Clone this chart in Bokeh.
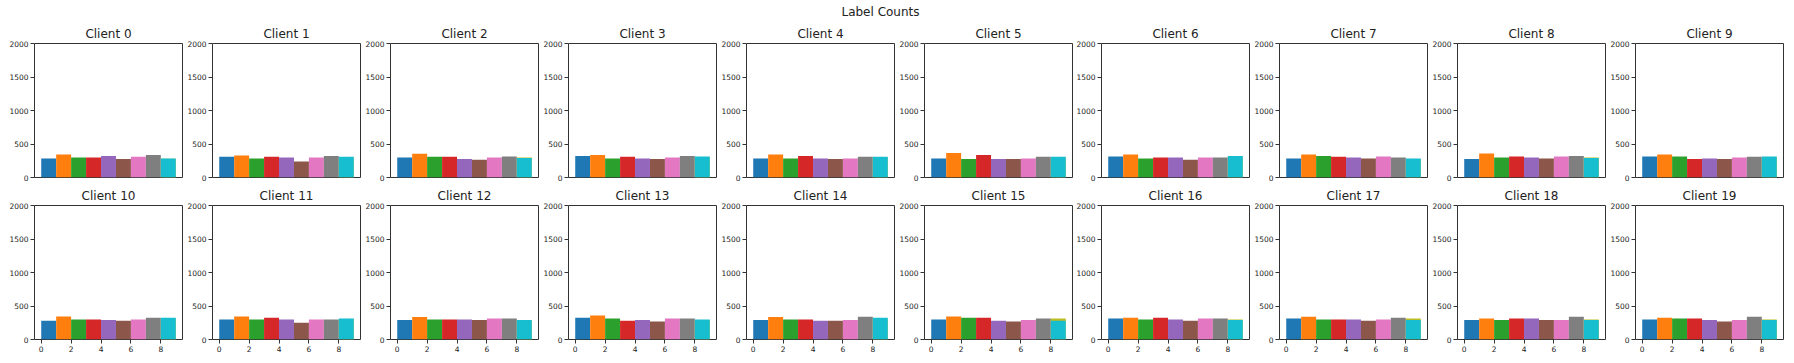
from bokeh.plotting import figure
from bokeh.layouts import column, row
from bokeh.models import ColumnDataSource, Range1d, FixedTicker
from bokeh.core.properties import value
from bokeh.embed import file_html
from bokeh.resources import INLINE

labels = [0, 1, 2, 3, 4, 5, 6, 7, 8, 9]
colors = ["#1f77b4", "#ff7f0e", "#2ca02c", "#d62728", "#9467bd",
          "#8c564b", "#e377c2", "#7f7f7f", "#bcbd22", "#17becf"]

client_0 = [285, 345, 300, 300, 320, 275, 310, 335, 280, 285]
client_1 = [310, 330, 285, 310, 300, 240, 300, 320, 300, 310]
client_2 = [300, 355, 310, 310, 275, 265, 300, 315, 300, 290]
client_3 = [320, 335, 285, 310, 285, 275, 300, 320, 305, 315]
client_4 = [285, 345, 285, 320, 285, 275, 285, 310, 300, 310]
client_5 = [285, 365, 275, 335, 275, 275, 285, 310, 300, 310]
client_6 = [315, 345, 285, 300, 300, 265, 300, 300, 310, 320]
client_7 = [285, 345, 320, 310, 300, 285, 315, 300, 275, 285]
client_8 = [275, 360, 300, 315, 300, 285, 315, 320, 300, 290]
client_9 = [315, 345, 315, 275, 285, 275, 300, 310, 305, 315]
client_10 = [280, 345, 300, 300, 290, 280, 300, 325, 315, 325]
client_11 = [300, 345, 300, 325, 300, 250, 300, 300, 305, 315]
client_12 = [290, 335, 300, 300, 300, 290, 315, 315, 280, 290]
client_13 = [325, 360, 315, 280, 290, 270, 315, 315, 290, 300]
client_14 = [290, 335, 300, 300, 280, 280, 290, 340, 310, 325]
client_15 = [300, 345, 325, 325, 280, 270, 290, 315, 315, 280]
client_16 = [315, 325, 300, 325, 300, 280, 315, 315, 300, 290]
client_17 = [315, 340, 300, 300, 300, 280, 300, 325, 315, 290]
client_18 = [290, 315, 290, 315, 315, 290, 290, 340, 300, 290]
client_19 = [300, 325, 315, 315, 290, 270, 290, 340, 300, 290]

clients = [client_0, client_1, client_2, client_3, client_4, client_5, client_6,
           client_7, client_8, client_9, client_10, client_11, client_12, client_13,
           client_14, client_15, client_16, client_17, client_18, client_19]

y_ticks = [0, 500, 1000, 1500, 2000]
x_ticks = [0, 2, 4, 6, 8]

FONT = "DejaVu Sans"
SPINE = "#333333"
TXT = "#222222"

# per-column borders (left, right) so frames land on the reference grid
col_left = [34, 28, 28, 28, 28, 28, 28, 28, 28, 28]
col_right = [2, 2, 2, 2, 2, 1, 2, 2, 2, 9]


def make_panel(idx, counts, bottom_row, col):
    p = figure(frame_width=148, frame_height=134, output_backend="svg",
               toolbar_location=None, x_range=Range1d(-0.45, 9.45),
               y_range=Range1d(0, 2000), title="Client %d" % idx)
    p.min_border_left = col_left[col]
    p.min_border_right = col_right[col]
    p.min_border_top = 21 if bottom_row else 23
    p.min_border_bottom = 24 if bottom_row else 6
    p.background_fill_color = "white"
    p.border_fill_color = "white"
    p.outline_line_color = SPINE
    p.outline_line_width = 1
    p.xgrid.visible = False
    p.ygrid.visible = False
    p.title.text_font = FONT
    p.title.text_font_size = "12px"
    p.title.text_font_style = "normal"
    p.title.text_color = TXT
    p.title.align = "center"
    p.title.standoff = 6

    # histogram-style bins: last bin holds labels 8 and 9
    left = [min(l, 8) for l in labels]
    right = [v + 1 for v in left]
    src = ColumnDataSource(dict(left=left, right=right, top=counts,
                                bottom=[0] * len(counts), color=colors))
    p.quad(left="left", right="right", bottom="bottom", top="top",
           fill_color="color", line_color=None, source=src)

    ya = p.yaxis[0]
    ya.ticker = FixedTicker(ticks=y_ticks)
    ya.axis_line_color = None
    ya.major_tick_line_color = SPINE
    ya.major_tick_out = 4
    ya.major_tick_in = 0
    ya.minor_tick_line_color = None
    ya.major_label_standoff = 2
    ya.major_label_text_font = FONT
    ya.major_label_text_font_size = "7.5px"
    ya.major_label_text_color = TXT

    xa = p.xaxis[0]
    if bottom_row:
        xa.ticker = FixedTicker(ticks=x_ticks)
        xa.axis_line_color = None
        xa.major_tick_line_color = SPINE
        xa.major_tick_out = 4
        xa.major_tick_in = 0
        xa.minor_tick_line_color = None
        xa.major_label_standoff = 2
        xa.major_label_text_font = FONT
        xa.major_label_text_font_size = "7.5px"
        xa.major_label_text_color = TXT
    else:
        xa.visible = False
    return p


row1 = [make_panel(i, clients[i], False, i) for i in range(10)]
row2 = [make_panel(i + 10, clients[i + 10], True, i) for i in range(10)]

header = figure(width=1792, height=20, output_backend="svg", toolbar_location=None,
                x_range=Range1d(0, 1792), y_range=Range1d(0, 20),
                min_border=0, outline_line_color=None)
header.axis.visible = False
header.grid.visible = False
header.text(x=[880], y=[9], text=["Label Counts"], text_align="center",
            text_baseline="middle", text_font=value(FONT),
            text_font_size="12px", text_color=TXT)

layout = column(header, row(*row1), row(*row2))

open("out.html", "w").write(file_html(layout, INLINE))
